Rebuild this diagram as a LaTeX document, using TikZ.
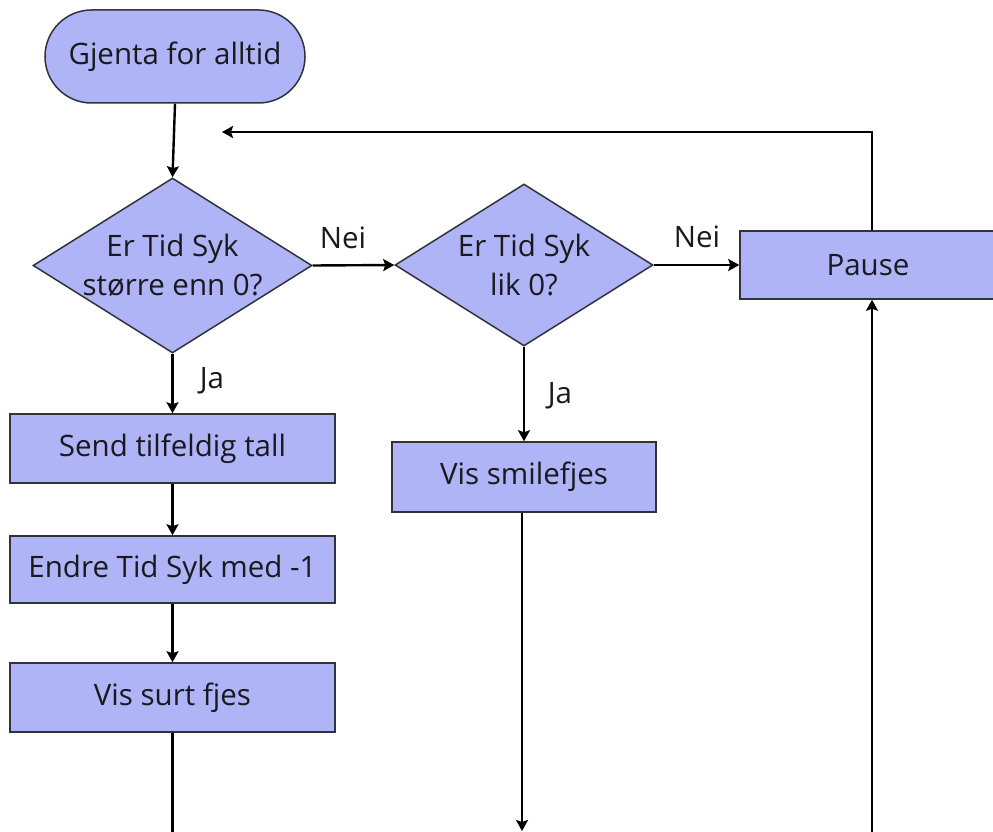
\documentclass[tikz,border=0pt]{standalone}
\usepackage{fontspec}
\setmainfont{Open Sans}
\usetikzlibrary{shapes.geometric,shapes.misc,arrows.meta}
\definecolor{boxfill}{RGB}{174,180,246}
\definecolor{boxline}{RGB}{50,50,60}
\definecolor{ink}{RGB}{25,25,30}
\tikzset{
  every node/.style={font=\fontsize{29.5}{39}\selectfont, text=ink},
  stepbox/.style={draw=boxline, line width=1.5pt, fill=boxfill, rectangle,
    minimum height=69pt, inner sep=0pt},
  termbox/.style={draw=boxline, line width=1.5pt, fill=boxfill, rounded rectangle,
    minimum width=260pt, minimum height=93pt, inner sep=0pt},
  decbox/.style={draw=boxline, line width=1.5pt, fill=boxfill, diamond, inner sep=0pt},
  conn/.style={draw=black, line width=2.4pt},
  arr/.style={conn, -{Stealth[length=11pt,width=12pt,inset=2pt]}},
  lbl/.style={inner sep=0pt},
}
\begin{document}
\begin{tikzpicture}[x=1pt,y=-1pt]
\useasboundingbox (0,0) rectangle (993,832);

% start terminal
\node[termbox] (start) at (175,56.5) {Gjenta for alltid};

% first decision
\node[decbox, minimum width=279pt, minimum height=175pt] (d1) at (172.5,265.5) {};
\node[align=center, lbl] (d1t) at (d1.center) {Er Tid Syk\\større enn 0?};

% second decision
\node[decbox, minimum width=258pt, minimum height=162pt] (d2) at (524,265) {};
\node[align=center, lbl] (d2t) at (d2.center) {Er Tid Syk\\lik 0?};

% pause
\node[stepbox, minimum width=256pt, minimum height=68pt] (pause) at (868,265) {Pause};

% left column of actions
\node[stepbox, minimum width=325pt] (send) at (172.5,448.5) {Send tilfeldig tall};
\node[stepbox, minimum width=325pt, minimum height=67pt] (endre) at (172.5,569.5) {Endre Tid Syk med -1};
\node[stepbox, minimum width=325pt] (surt) at (172.5,697.5) {Vis surt fjes};

% middle action
\node[stepbox, minimum width=264pt, minimum height=70pt] (smile) at (524,477) {Vis smilefjes};

% loop points
\coordinate (loopR) at (872,132);
\coordinate (loopL) at (222,132);
\coordinate (b1) at (172.5,834);
\coordinate (b2) at (522,831);
\coordinate (b3) at (872,834);

% connectors
\draw[arr] (start.south) -- (d1.north);
\draw[arr] (d1.east) -- (d2.west);
\draw[arr] (d2.east) -- (pause.west);
\draw[arr] (d1.south) -- (send.north);
\draw[arr] (send.south) -- (endre.north);
\draw[arr] (endre.south) -- (surt.north);
\draw[arr] (d2.south) -- (smile.north);
\draw[conn] (surt.south) -- (b1);
\draw[arr] (smile.south -| b2) -- (b2);
\draw[arr] (b3) -- (pause.south -| b3);
\draw[arr] (pause.north -| loopR) -- (loopR) -- (loopL);

% branch labels
\node[lbl] (nei1) at (343,238) {Nei};
\node[lbl] (nei2) at (697,237) {Nei};
\node[lbl] (ja1) at (212,381) {Ja};
\node[lbl] (ja2) at (560,396) {Ja};
\end{tikzpicture}
\end{document}
